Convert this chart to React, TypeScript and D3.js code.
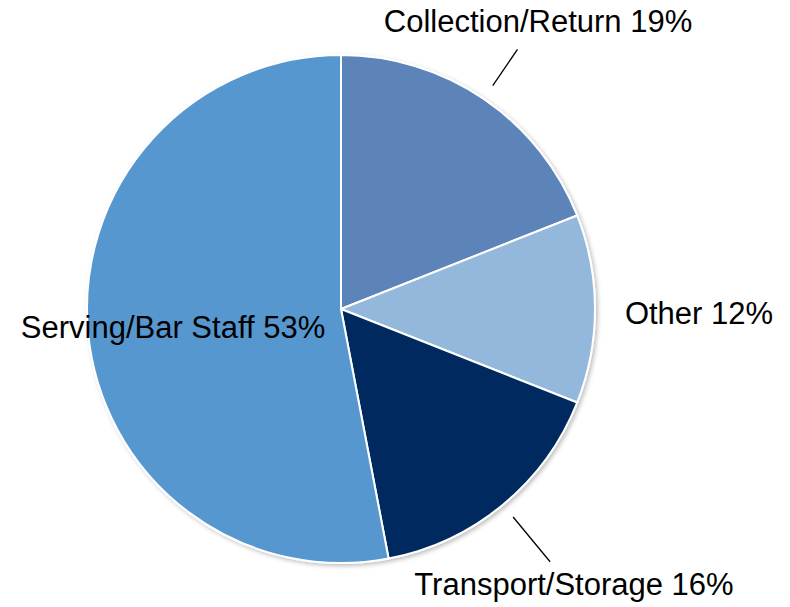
import React, { useEffect, useRef } from 'react';
import * as d3 from 'd3';

const categories = ['Collection/Return', 'Other', 'Transport/Storage', 'Serving/Bar Staff'];
const shares = [19, 12, 16, 53];
const colors = ['#5B84B8', '#93B8DC', '#002C5F', '#5797CF'];
// label anchor points (text centre x, baseline y) and leader line outer length (0 = none)
const labelPos: [number, number][] = [[538, 32], [699, 324], [574, 595], [173, 338]];
const leaderLen = [60, 0, 74, 0];

const App = () => {
  const svgRef = useRef<SVGSVGElement>(null);

  useEffect(() => {
    const width = 790;
    const height = 607;
    const cx = 341;
    const cy = 309;
    const r = 254;

    const svg = d3.select(svgRef.current)
      .attr('width', width)
      .attr('height', height);
    svg.selectAll('*').remove();

    const defs = svg.append('defs');
    const f = defs.append('filter').attr('id', 'shadow').attr('x', '-10%').attr('y', '-10%').attr('width', '120%').attr('height', '120%');
    f.append('feDropShadow').attr('dx', 2).attr('dy', 2).attr('stdDeviation', 2).attr('flood-color', '#000').attr('flood-opacity', 0.25);

    const data = categories.map((c, i) => ({ name: c, value: shares[i] }));
    const pie = d3.pie<{ name: string; value: number }>().value(d => d.value).sort(null);
    const arc = d3.arc<d3.PieArcDatum<{ name: string; value: number }>>().innerRadius(0).outerRadius(r);
    const arcs = pie(data);

    const g = svg.append('g').attr('transform', `translate(${cx},${cy})`);
    g.append('g').attr('filter', 'url(#shadow)')
      .selectAll('path')
      .data(arcs)
      .enter()
      .append('path')
      .attr('d', arc)
      .attr('fill', (d, i) => colors[i])
      .attr('stroke', '#fff')
      .attr('stroke-width', 2)
      .attr('stroke-linejoin', 'round');

    // leader lines
    arcs.forEach((d, i) => {
      if (!leaderLen[i]) return;
      const a = (d.startAngle + d.endAngle) / 2;
      const p1 = [Math.sin(a) * (r + 16), -Math.cos(a) * (r + 16)];
      const p2 = [Math.sin(a) * (r + leaderLen[i]), -Math.cos(a) * (r + leaderLen[i])];
      g.append('line')
        .attr('x1', p1[0]).attr('y1', p1[1])
        .attr('x2', p2[0]).attr('y2', p2[1])
        .attr('stroke', '#000')
        .attr('stroke-width', 1.3);
    });

    svg.append('g')
      .selectAll('text')
      .data(arcs)
      .enter()
      .append('text')
      .attr('x', (d, i) => labelPos[i][0])
      .attr('y', (d, i) => labelPos[i][1])
      .attr('text-anchor', 'middle')
      .attr('font-family', 'Liberation Sans, Arial, sans-serif')
      .attr('font-size', 31)
      .attr('fill', '#000')
      .text(d => `${d.data.name} ${d.data.value}%`);
  }, []);

  return <svg ref={svgRef} style={{ position: 'absolute', left: 0, top: 0 }}></svg>;
};

export default App;
